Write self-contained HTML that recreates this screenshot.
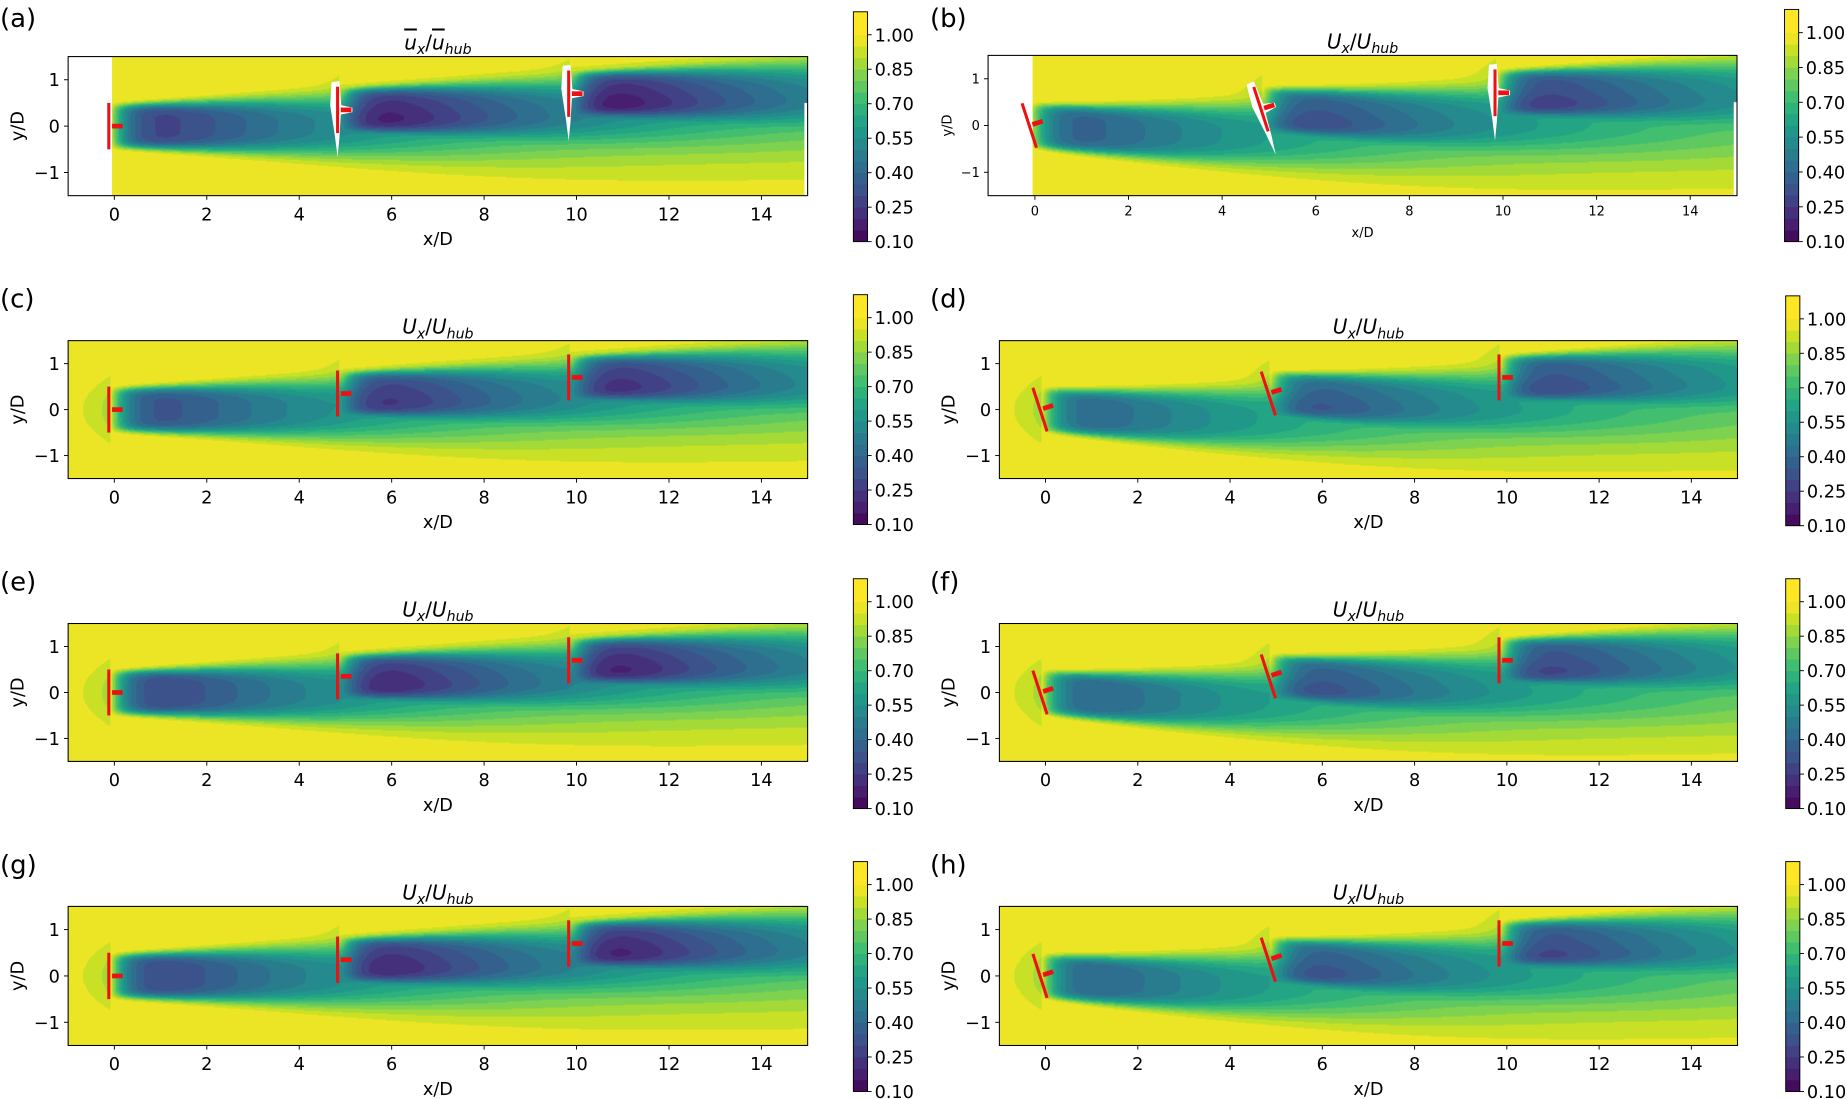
<!DOCTYPE html>
<html><head><meta charset="utf-8">
<style>
html,body{margin:0;padding:0;background:#fff;overflow:hidden}
#root{position:absolute;left:0;top:0;width:1567px;height:932.4px;transform-origin:0 0;transform:scale(1.178685)}
canvas{position:absolute;display:block}
svg{position:absolute;left:0;top:0}
text{font-family:"DejaVu Sans","Liberation Sans",sans-serif;fill:#000}
</style></head>
<body>
<div id="root">
<svg id="ov" width="1567" height="932.4" viewBox="0 0 1567 932.4"></svg>
</div>
<script>
// ---- data ----
const turbX = [-0.1, 4.85, 9.85];
const turbY = [0, 0.35, 0.7];
const panelLabels = ['(a)','(b)','(c)','(d)','(e)','(f)','(g)','(h)'];
const panelYaw1 = [0, 18, 0, 18, 0, 18, 0, 18];
const panelYaw2 = [0, 18, 0, 18, 0, 18, 0, 18];
const panelYaw3 = [0, 0, 0, 0, 0, 0, 0, 0];
const panelDeficit = [0.86, 0.8, 0.8, 0.76, 0.84, 0.78, 0.84, 0.78];
const cbarTicks = [0.10, 0.25, 0.40, 0.55, 0.70, 0.85, 1.00];
const xTicks = [0, 2, 4, 6, 8, 10, 12, 14];
const yTicks = [-1, 0, 1];
const levelMin = 0.1, levelMax = 1.1, nLevels = 20;

// ---- layout (display units) ----
const S = 1847/1567;
const layout = [
 {ax:[57.8,48,685.2,166], cb:[724,10,736,205], lab:[0,23], small:false},
 {ax:[838.3,47,1473.7,166], cb:[1514,8,1526,205], lab:[789,23], small:true},
 {ax:[57.8,289,685.2,406], cb:[724,250,736,445], lab:[0,261], small:false},
 {ax:[847.9,289,1474.1,406], cb:[1515,251,1527,446], lab:[789,261], small:false},
 {ax:[57.8,529,685.2,646], cb:[724,491,736,686], lab:[0,501], small:false},
 {ax:[847.9,529,1474.1,646], cb:[1515,491,1527,686], lab:[789,501], small:false},
 {ax:[57.8,769,685.2,887], cb:[724,731,736,926], lab:[0,741], small:false},
 {ax:[847.9,769,1474.1,887], cb:[1515,731,1527,926], lab:[789,741], small:false}
];

const vir = [[68,1,84],[72,36,117],[65,68,135],[53,95,141],[42,120,142],[33,145,140],[34,168,132],[68,191,112],[122,209,81],[189,223,38],[253,231,37]];
function viridis(t){t=Math.max(0,Math.min(1,t));const f=t*10,i=Math.min(9,Math.floor(f)),r=f-i;
 return vir[i].map((c,k)=>Math.round(c+(vir[i+1][k]-c)*r));}
function levelColor(v){const step=(levelMax-levelMin)/nLevels;let k=Math.floor((v-levelMin)/step);k=Math.max(0,Math.min(nLevels-1,k));
 const mid=levelMin+(k+0.5)*step;
 return viridis((mid-levelMin)/(1.0-levelMin));}

function field(p,x,y){
 const yaws=[panelYaw1[p],panelYaw2[p],panelYaw3[p]];
 let s=0;
 for(let i=0;i<turbX.length;i++){
  const th=yaws[i]*Math.PI/180, dx=x-turbX[i];
  if(dx<0){
   const d=0.13*Math.exp(dx/0.55)*Math.exp(-Math.pow(y-turbY[i],2)/(2*0.5*0.5));
   s+=d*d; continue;
  }
  const yc=turbY[i]-th*0.85*(1-Math.exp(-dx/3.5));
  const sig=0.42+0.024*dx, pw=2+6*Math.exp(-dx/3);
  const C=panelDeficit[p]*Math.pow(Math.cos(th),1.5)*(1-Math.exp(-dx/0.4))*Math.exp(-dx/8);
  const r=Math.abs(y-yc)/sig;
  const d=C*Math.exp(-0.5*Math.pow(r,pw));
  s+=d*d;
 }
 return 0.995-Math.sqrt(s);
}

const NS='http://www.w3.org/2000/svg';
const ov=document.getElementById('ov');
function el(tag,attrs,parent,txt){const e=document.createElementNS(NS,tag);for(const k in attrs)e.setAttribute(k,attrs[k]);if(txt!==undefined)e.textContent=txt;(parent||ov).appendChild(e);return e;}

const root=document.getElementById('root');
layout.forEach((L,p)=>{
 const [x0,y0,x1,y1]=L.ax;
 const sx=v=>x0+(v+1)/16*(x1-x0), sy=v=>y1-(v+1.5)/3*(y1-y0);
 const cv=document.createElement('canvas');
 
 
 const W=Math.round((x1-x0)*S),H=Math.round((y1-y0)*S);
 cv.width=W;cv.height=H;cv.style.left=x0+'px';cv.style.top=y0+'px';cv.style.width=(x1-x0)+'px';cv.style.height=(y1-y0)+'px';
 root.insertBefore(cv,ov);
 const ctx=cv.getContext('2d'),img=ctx.createImageData(W,H);
 for(let j=0;j<H;j++){const yd=1.5-3*(j+0.5)/H;
  for(let i=0;i<W;i++){const xd=-1+16*(i+0.5)/W;
   const c=levelColor(field(p,xd,yd));const o=(j*W+i)*4;
   img.data[o]=c[0];img.data[o+1]=c[1];img.data[o+2]=c[2];img.data[o+3]=255;}}
 ctx.putImageData(img,0,0);
 const g=el('g',{});
 
 
 const yaws=[panelYaw1[p],panelYaw2[p],panelYaw3[p]];
 if(p<2){
  el('rect',{x:x0,y:y0,width:sx(-0.05)-x0,height:y1-y0,fill:'#fff'},g);
  el('rect',{x:sx(14.93),y:sy(0.5),width:sx(15)-sx(14.93),height:sy(-1.5)-sy(0.5),fill:'#fff'},g);
  for(let i=1;i<3;i++){
   const th=yaws[i]*Math.PI/180;
   const pts=[[-0.15,0.6],[0.02,0.62],[0.06,0.1],[0.3,0.05],[0.3,-0.05],[0.05,-0.1],[0.02,-0.6],[-0.02,-1.02],[-0.08,-0.55],[-0.18,0.1]];
   const str=pts.map(([a,b])=>{const X=turbX[i]+a*Math.cos(th)-b*Math.sin(th),Y=turbY[i]+a*Math.sin(th)+b*Math.cos(th);return sx(X)+','+sy(Y);}).join(' ');
   el('polygon',{points:str,fill:'#fff'},g);
  }
 }
 for(let i=0;i<3;i++){
  const th=yaws[i]*Math.PI/180, cx=turbX[i]-0.02, cy=turbY[i];
  const rot=el('line',{x1:sx(cx-0.5*Math.sin(th)),y1:sy(cy+0.5*Math.cos(th)),x2:sx(cx+0.5*Math.sin(th)),y2:sy(cy-0.5*Math.cos(th)),stroke:'#ee1111','stroke-width':2.6},g);
  
  
  const hub=el('line',{x1:sx(cx+0.07*Math.cos(th)),y1:sy(cy+0.07*Math.sin(th)),x2:sx(cx+0.3*Math.cos(th)),y2:sy(cy+0.3*Math.sin(th)),stroke:'#ee1111','stroke-width':4},g);
  
  
 }
 el('rect',{x:x0,y:y0,width:x1-x0,height:y1-y0,fill:'none',stroke:'#000','stroke-width':0.9},g);
 const fs=L.small?11:15;
 xTicks.forEach(t=>{const X=sx(t);el('line',{x1:X,y1:y1,x2:X,y2:y1+3.5,stroke:'#000','stroke-width':0.8},g);
  const tx=el('text',{x:X,y:y1+(L.small?17:21),'text-anchor':'middle','font-size':fs},g,String(t));
  });
 yTicks.forEach(t=>{const Y=sy(t);el('line',{x1:x0,y1:Y,x2:x0-3.5,y2:Y,stroke:'#000','stroke-width':0.8},g);
  const tx=el('text',{x:x0-7,y:Y+(L.small?4:5.5),'text-anchor':'end','font-size':fs},g,t<0?'\u2212'+(-t):String(t));
  });
 const xl=el('text',{x:(x0+x1)/2,y:y1+(L.small?35:42),'text-anchor':'middle','font-size':L.small?11:15},g,'x/D');
 
 const ym=(y0+y1)/2, yx=x0-(L.small?31:38);
 const yl=el('text',{x:yx,y:ym,'text-anchor':'middle','font-size':L.small?11:15,transform:`rotate(-90 ${yx} ${ym})`},g,'y/D');
 
 const tt=el('text',{x:(x0+x1)/2,y:y0-6,'text-anchor':'middle','font-size':17,'font-style':'italic'},g);
 
 const bar=p===0;
 const a=el('tspan',{},tt,bar?'u':'U'); if(bar)a.setAttribute('text-decoration','overline');
 el('tspan',{'font-size':12,dy:4},tt,'x');
 el('tspan',{dy:-4,'font-style':'normal'},tt,'/');
 const b=el('tspan',{},tt,bar?'u':'U'); if(bar)b.setAttribute('text-decoration','overline');
 el('tspan',{'font-size':12,dy:4},tt,'hub');
 const pl=el('text',{x:L.lab[0],y:L.lab[1],'font-size':22},g,panelLabels[p]);
 
 const [cx0,cy0,cx1,cy1]=L.cb;
 const cb=el('g',{},g);
 const cys=v=>cy1-(v-levelMin)/(levelMax-levelMin)*(cy1-cy0);
 for(let k=0;k<nLevels;k++){const lo=levelMin+k*(levelMax-levelMin)/nLevels,hi=lo+(levelMax-levelMin)/nLevels;
  const c=levelColor((lo+hi)/2);
  el('rect',{x:cx0,y:cys(hi),width:cx1-cx0,height:cys(lo)-cys(hi)+0.3,fill:`rgb(${c[0]},${c[1]},${c[2]})`},cb);}
 el('rect',{x:cx0,y:cy0,width:cx1-cx0,height:cy1-cy0,fill:'none',stroke:'#000','stroke-width':0.8},cb);
 cbarTicks.forEach(t=>{const Y=cys(t);el('line',{x1:cx1,y1:Y,x2:cx1+3.5,y2:Y,stroke:'#000','stroke-width':0.8},cb);
  const tx=el('text',{x:cx1+6,y:Y+5.5,'font-size':15},cb,t.toFixed(2));
  });
});
</script>
</body></html>
